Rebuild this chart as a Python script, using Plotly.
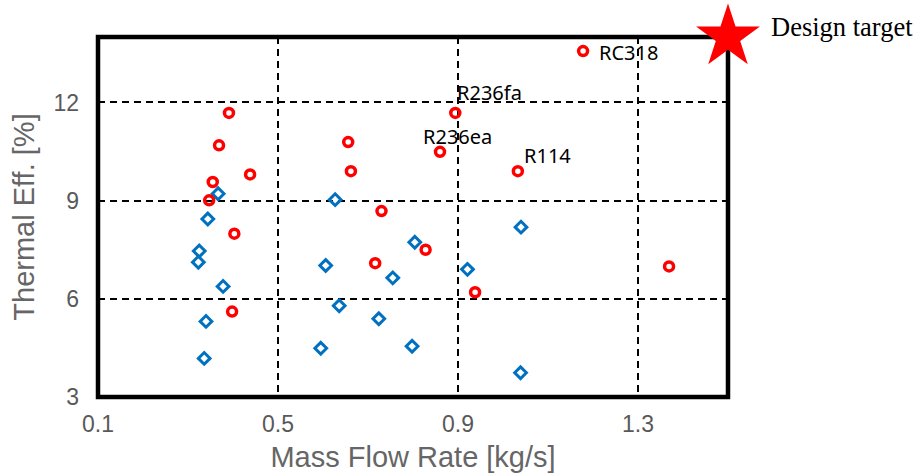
import plotly.graph_objects as go

# Red circles (labelled refrigerants among them)
red_x = [0.391, 0.369, 0.355, 0.347, 0.438, 0.403, 0.656, 0.662, 0.730, 0.860, 0.894,
         1.178, 1.033, 0.398, 0.716, 0.828, 0.938, 1.369]
red_y = [11.68, 10.69, 9.57, 9.01, 9.80, 7.99, 10.79, 9.90, 8.68, 10.49, 11.68,
         13.57, 9.90, 5.61, 7.09, 7.50, 6.20, 6.99]

# Blue diamonds
blue_x = [0.367, 0.344, 0.627, 0.325, 0.323, 0.378, 0.340, 0.336, 0.606, 0.804,
          0.755, 0.636, 0.724, 0.595, 0.798, 1.040, 0.921, 1.039]
blue_y = [9.21, 8.44, 9.03, 7.46, 7.12, 6.38, 5.31, 4.18, 7.02, 7.73,
          6.64, 5.79, 5.39, 4.49, 4.55, 8.19, 6.90, 3.74]

# Labels: (name, x, y, xanchor, xshift, yshift)
labels = [("RC318", 1.178, 13.57, "left", 14, -1),
          ("R236fa", 0.894, 11.68, "left", 0, 20),
          ("R236ea", 0.860, 10.49, "center", 17, 15),
          ("R114", 1.033, 9.90, "left", 4, 16)]

target_x = [1.5]
target_y = [14.0]

x_ticks = [0.1, 0.5, 0.9, 1.3]
y_ticks = [3, 6, 9, 12]

fig = go.Figure()
fig.add_trace(go.Scatter(x=blue_x, y=blue_y, mode="markers",
                         marker=dict(symbol="diamond-open", size=9, color="#0070C0",
                                     line=dict(width=3, color="#0070C0")),
                         showlegend=False, hoverinfo="x+y"))
fig.add_trace(go.Scatter(x=red_x, y=red_y, mode="markers",
                         marker=dict(symbol="circle-open", size=9, color="#FF0000",
                                     line=dict(width=3.5, color="#FF0000")),
                         showlegend=False, hoverinfo="x+y"))
fig.add_trace(go.Scatter(x=target_x, y=target_y, mode="markers", cliponaxis=False,
                         marker=dict(symbol="star", size=48, color="#FF0000",
                                     line=dict(width=0)),
                         showlegend=False, hoverinfo="skip"))

for name, lx, ly, xa, xs, ys in labels:
    fig.add_annotation(x=lx, y=ly, xref="x", yref="y", text=name, showarrow=False,
                       xanchor=xa, yanchor="middle", xshift=xs, yshift=ys,
                       font=dict(family="Noto Sans", size=20, color="#000000"))

fig.add_annotation(x=target_x[0], y=target_y[0], xref="x", yref="y", text="Design target",
                   showarrow=False, xanchor="left", yanchor="middle", xshift=41, yshift=10,
                   font=dict(family="Liberation Serif", size=26.5, color="#000000"))

fig.add_shape(type="rect", xref="paper", yref="paper", x0=0, x1=1, y0=0, y1=1,
              line=dict(color="black", width=4.5), layer="between")

fig.update_xaxes(range=[0.1, 1.5], tickvals=x_ticks, ticktext=[str(v) for v in x_ticks],
                 showgrid=True, gridcolor="black", gridwidth=2, griddash="7px,5px",
                 zeroline=False, showline=False, ticks="", ticklabelstandoff=11,
                 tickfont=dict(family="Liberation Sans", size=23, color="#595959"),
                 title=dict(text="Mass Flow Rate [kg/s]", standoff=10,
                            font=dict(family="Liberation Sans", size=29, color="#666666")))
fig.update_yaxes(range=[3, 14], tickvals=y_ticks, ticktext=[str(v) for v in y_ticks],
                 showgrid=True, gridcolor="black", gridwidth=2, griddash="7px,5px",
                 zeroline=False, showline=False, ticks="", ticklabelstandoff=18,
                 tickfont=dict(family="Liberation Sans", size=23, color="#595959"),
                 title=dict(text="Thermal Eff. [%]", standoff=10,
                            font=dict(family="Liberation Sans", size=29, color="#666666")))

fig.update_layout(width=920, height=476, autosize=False,
                  margin=dict(l=98, r=192, t=37, b=79, autoexpand=False),
                  plot_bgcolor="white", paper_bgcolor="white")

fig.write_html("out.html")
